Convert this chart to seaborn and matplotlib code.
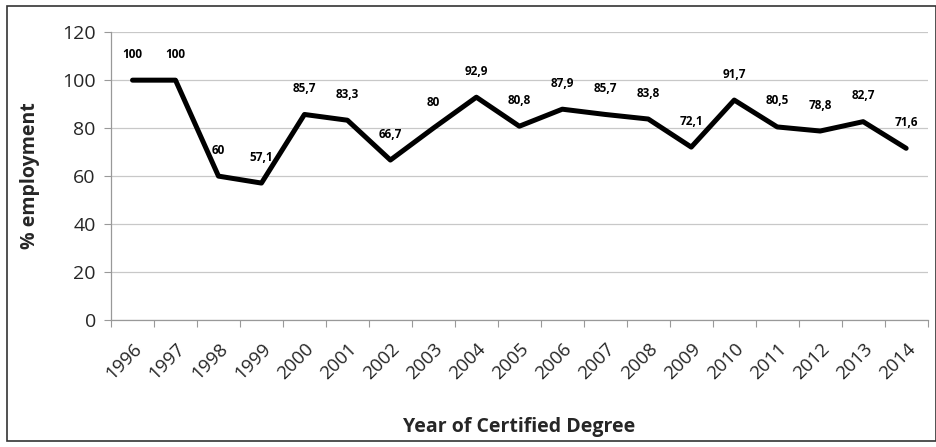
import numpy as np
import pandas as pd
import matplotlib
matplotlib.use("Agg")
import matplotlib.pyplot as plt
import seaborn as sns
from matplotlib.patches import Rectangle
from matplotlib.ticker import MultipleLocator

# --------------------------------------------------
# Data
# --------------------------------------------------

years = [
    "1996", "1997", "1998", "1999", "2000", "2001", "2002",
    "2003", "2004", "2005", "2006", "2007", "2008", "2009",
    "2010", "2011", "2012", "2013", "2014"
]

employment = [
    100, 100, 60, 57.1, 85.7, 83.3, 66.7,
    80, 92.9, 80.8, 87.9, 85.7, 83.8, 72.1,
    91.7, 80.5, 78.8, 82.7, 71.6
]

y_ticks = [0, 20, 40, 60, 80, 100, 120]

df = pd.DataFrame({
    "pos": np.arange(len(years)),
    "year": years,
    "value": employment
})

# --------------------------------------------------
# Figure
# --------------------------------------------------

sns.set_style("white")
plt.rcParams["font.family"] = ["Open Sans", "DejaVu Sans"]

fig = plt.figure(figsize=(9.37, 4.47), dpi=100)
ax = fig.add_axes([0.1185, 0.284, 0.8715, 0.644])

sns.lineplot(
    data=df,
    x="pos",
    y="value",
    color="black",
    linewidth=3.6,
    ax=ax
)

# data labels
for _, row in df.iterrows():
    label = f"{row['value']:g}".replace(".", ",")
    ax.annotate(
        label,
        (row["pos"], row["value"]),
        xytext=(0, 14),
        textcoords="offset points",
        ha="center",
        va="bottom",
        fontsize=8.5,
        fontweight="bold",
        color="black"
    )

# --------------------------------------------------
# Axes styling
# --------------------------------------------------

ax.set_xlim(-0.5, len(years) - 0.5)
ax.set_ylim(0, 120)

ax.set_yticks(y_ticks)
ax.set_yticklabels([str(t) for t in y_ticks], fontsize=14)

ax.set_xticks(df["pos"])
ax.set_xticklabels(
    years,
    rotation=45,
    ha="right",
    rotation_mode="anchor",
    fontsize=13.5
)
ax.xaxis.set_minor_locator(MultipleLocator(1, offset=0.5))

ax.tick_params(axis="x", which="major", length=0, pad=14)
ax.tick_params(
    axis="x", which="minor", length=5, width=0.8,
    color="#999999", bottom=True, direction="out"
)
ax.tick_params(
    axis="y", which="major", length=5, width=0.8,
    color="#999999", left=True, direction="out", pad=6
)

ax.grid(axis="y", color="#c8c8c8", linewidth=0.9)
ax.set_axisbelow(True)

for side in ["top", "right"]:
    ax.spines[side].set_visible(False)
for side in ["left", "bottom"]:
    ax.spines[side].set_color("#999999")
    ax.spines[side].set_linewidth(0.9)

ax.set_xlabel(
    "Year of Certified Degree",
    fontsize=14,
    fontweight="bold",
    labelpad=25
)
ax.set_ylabel(
    "% employment",
    fontsize=14,
    fontweight="bold",
    labelpad=16
)

# outer frame
fig.patches.append(
    Rectangle(
        (7 / 937, 6 / 447),
        929 / 937,
        435 / 447,
        transform=fig.transFigure,
        fill=False,
        edgecolor="#333333",
        linewidth=1.2
    )
)

fig.savefig("out.png", dpi=100)
plt.close(fig)
